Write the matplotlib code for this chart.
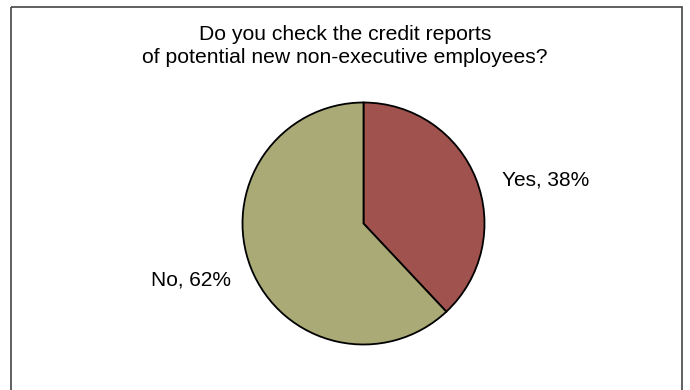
import matplotlib.pyplot as plt
from matplotlib.patches import Rectangle

# Survey answers
labels = ['Yes', 'No']
shares = [38, 62]
colors = ['#A0524E', '#A9AA76']

title_lines = ['Do you check the credit reports',
               'of potential new non-executive employees?']

plt.rcParams['font.family'] = ['Liberation Sans', 'DejaVu Sans']

fig = plt.figure(figsize=(6.9, 3.9), dpi=100)
ax = fig.add_axes([0, 0, 1, 1])

# y axis points down (pixel-like), so start at -90 and go "counterclockwise"
# in data terms, which reads clockwise from the top on screen
ax.pie(shares, colors=colors, startangle=-90, counterclock=True,
       center=(363.5, 223.5), radius=121, frame=True,
       wedgeprops=dict(edgecolor='black', linewidth=1.3))
ax.set_xlim(0, 690)
ax.set_ylim(390, 0)
ax.set_aspect('equal')
ax.axis('off')

# chart frame
ax.add_patch(Rectangle((10.5, 6.5), 671, 400, fill=False, edgecolor='#444444', lw=1.2))

for i, line in enumerate(title_lines):
    ax.text(345, 40 + 23 * i, line, ha='center', va='baseline', fontsize=15.2)

label_pos = [(546, 186), (191, 286)]
for lab, val, (x, y) in zip(labels, shares, label_pos):
    ax.text(x, y, f'{lab}, {val}%', ha='center', va='baseline', fontsize=15)

fig.savefig('out.png', dpi=100)
